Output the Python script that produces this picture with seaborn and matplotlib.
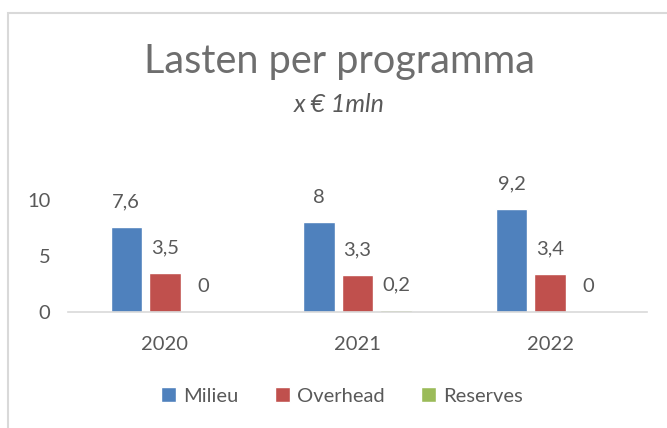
import matplotlib
matplotlib.use("Agg")
import matplotlib.pyplot as plt
from matplotlib.patches import Rectangle
import seaborn as sns
import pandas as pd

years = ["2020", "2021", "2022"]
milieu = [7.6, 8.0, 9.2]
overhead = [3.5, 3.3, 3.4]
reserves = [0.0, 0.2, 0.0]
series_names = ["Milieu", "Overhead", "Reserves"]
colors = ["#4F81BD", "#C0504D", "#9BBB59"]
yticks = [0, 5, 10]

rows = []
for name, vals in zip(series_names, [milieu, overhead, reserves]):
    for y, v in zip(years, vals):
        rows.append({"Jaar": y, "Reeks": name, "Waarde": v})
df = pd.DataFrame(rows)

sns.set_theme(style="white")
plt.rcParams["font.family"] = ["Lato", "DejaVu Sans"]
TXT = "#595959"

fig = plt.figure(figsize=(6.67, 4.28), dpi=100)
fig.patch.set_facecolor("white")
W, H = 667, 428
ax = fig.add_axes([68.5 / W, 1 - 312 / H, (646.5 - 68.5) / W, (312 - 177.6) / H])

sns.barplot(data=df, x="Jaar", y="Waarde", hue="Reeks", palette=colors,
            width=0.6, gap=0.18, ax=ax, legend=True, errorbar=None,
            saturation=1)

ax.set_ylim(0, 12)
ax.set_yticks(yticks)
ax.set_yticklabels([str(t) for t in yticks], fontsize=14.5, color=TXT)
ax.tick_params(axis="x", labelsize=14.5, labelcolor=TXT, length=0, pad=17)
ax.tick_params(axis="y", length=0, pad=13)
ax.set_xlabel("")
ax.set_ylabel("")
for s in ["top", "right", "left"]:
    ax.spines[s].set_visible(False)
ax.spines["bottom"].set_color("#D9D9D9")
ax.spines["bottom"].set_linewidth(1.2)
ax.set_facecolor("none")

for cont in ax.containers:
    for bar in cont:
        h = bar.get_height()
        lab = f"{h:g}".replace(".", ",")
        ax.annotate(lab, (bar.get_x() + bar.get_width() / 2, h),
                    xytext=(0, 18), textcoords="offset points",
                    ha="center", va="center", fontsize=14.5, color=TXT,
                    annotation_clip=False)

leg = ax.legend(loc="center", bbox_to_anchor=(342 / W, 1 - 396 / H),
                bbox_transform=fig.transFigure, ncol=3, frameon=False,
                fontsize=14.5, handlelength=0.75, handleheight=0.75,
                handletextpad=0.35, columnspacing=1.8, labelcolor=TXT)

fig.text(340 / W, 1 - 62 / H, "Lasten per programma", ha="center", va="center",
         fontsize=28.5, color="#6e6e6e")
fig.text(339 / W, 1 - 105 / H, "x € 1mln", ha="center", va="center",
         fontsize=18, color=TXT, style="italic")

fig.patches.append(Rectangle((8 / W, -0.1), 1.0, 1 - 13 / H + 0.1,
                             transform=fig.transFigure, fill=False,
                             edgecolor="#D9D9D9", linewidth=1.5))

fig.savefig("out.png", dpi=100)
